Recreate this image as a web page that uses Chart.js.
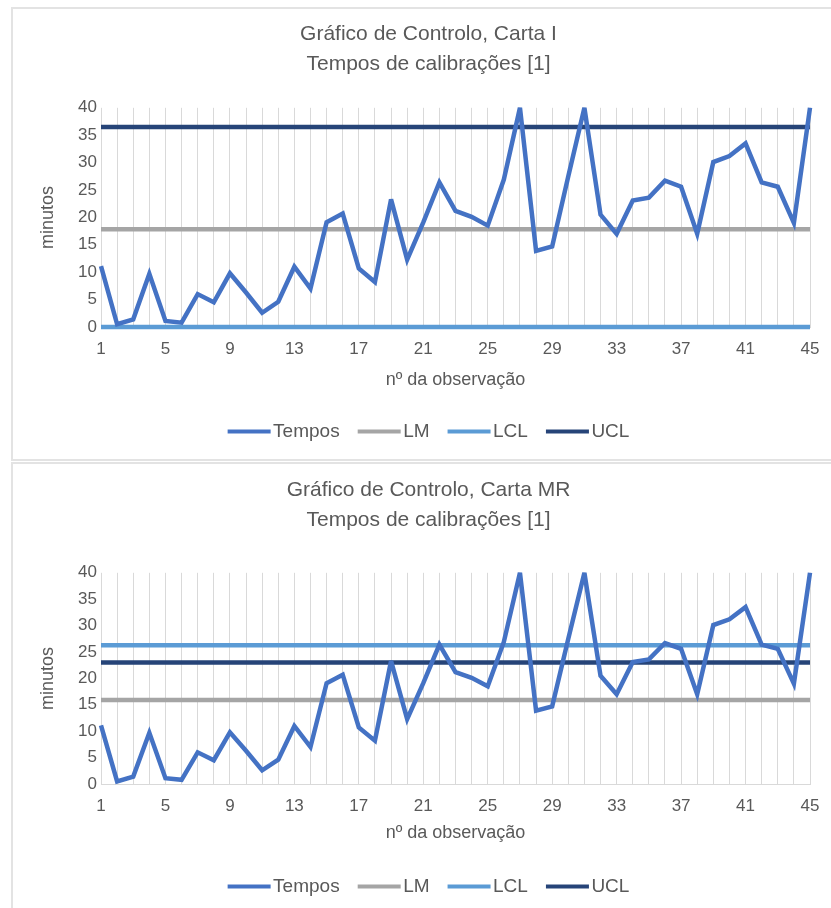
<!DOCTYPE html>
<html lang="pt">
<head>
<meta charset="utf-8">
<title>Gráfico de Controlo – Tempos de calibrações</title>
<script src="https://cdn.jsdelivr.net/npm/chart.js@4/dist/chart.umd.min.js"></script>
<style>
  html, body { margin: 0; padding: 0; background: #ffffff; overflow: hidden; }
  body { width: 831px; height: 908px; position: relative; }
  .card {
    position: absolute;
    left: 11px;
    width: 833px;
    border-top: 2px solid #e3e3e3;
    border-left: 2px solid #e3e3e3;
    border-bottom: 2px solid #e3e3e3;
    background: #ffffff;
  }
  #cardI  { top: 7px;   height: 450px; }
  #cardMR { top: 462px; height: 450px; }
  .card canvas { display: block; }
</style>
</head>
<body>
<div class="card" id="cardI"><canvas id="chartI" width="831" height="450"></canvas></div>
<div class="card" id="cardMR"><canvas id="chartMR" width="831" height="450"></canvas></div>

<script>
// Observation numbers (x axis categories)
const observacoes = [1, 2, 3, 4, 5, 6, 7, 8, 9, 10, 11, 12, 13, 14, 15, 16, 17, 18, 19, 20,
  21, 22, 23, 24, 25, 26, 27, 28, 29, 30, 31, 32, 33, 34, 35, 36, 37, 38, 39, 40,
  41, 42, 43, 44, 45];

// Calibration times, minutes
const tempos = [11.1, 0.5, 1.4, 9.7, 1.1, 0.8, 6.0, 4.5, 9.8, 6.3,
  2.6, 4.6, 11.0, 7.0, 19.1, 20.7, 10.7, 8.2, 23.3, 12.3,
  19.1, 26.4, 21.2, 20.1, 18.5, 26.9, 40.0, 13.9, 14.7, 27.5,
  40.0, 20.5, 17.0, 23.1, 23.6, 26.7, 25.6, 17.0, 30.1, 31.2,
  33.5, 26.4, 25.6, 19.0, 40.0];

// Control limits, individuals chart (Carta I)
const limitesI = { LM: 17.85, LCL: 0, UCL: 36.5 };
// Control limits, moving range chart (Carta MR)
const limitesMR = { LM: 15.9, LCL: 26.3, UCL: 23.0 };

// Only every 4th observation number is labelled on the x axis
const passoRotulos = 4;

const corTexto = '#595959';
const fonte = "'Liberation Sans', Arial, sans-serif";

const cores = {
  Tempos: '#4472C4',
  LM: '#A5A5A5',
  LCL: '#5B9BD5',
  UCL: '#264478'
};

function serieConstante(valor) {
  return observacoes.map(() => valor);
}

// Legend swatch: a short thick line, slightly longer than the legend box
function amostraLegenda(cor) {
  const c = document.createElement('canvas');
  c.width = 86;
  c.height = 6;
  const ctx = c.getContext('2d');
  ctx.fillStyle = cor;
  ctx.fillRect(25, 1, 43, 4);
  return c;
}

// Keep sharp peaks from producing very long miter spikes
const limiteMitra = {
  id: 'limiteMitra',
  beforeDatasetsDraw(chart) { chart.ctx.miterLimit = 4; }
};

function construirGrafico(canvasId, subtitulo, limites, disp) {
  const linha = (label, data) => ({
    label,
    data,
    borderColor: cores[label],
    backgroundColor: cores[label],
    borderWidth: 4.5,
    borderJoinStyle: 'miter',
    pointRadius: 0,
    pointHoverRadius: 0,
    tension: 0,
    fill: false,
    clip: false
  });

  return new Chart(document.getElementById(canvasId), {
    type: 'line',
    plugins: [limiteMitra],
    data: {
      labels: observacoes,
      datasets: [
        linha('Tempos', tempos),
        linha('LM', serieConstante(limites.LM)),
        linha('LCL', serieConstante(limites.LCL)),
        linha('UCL', serieConstante(limites.UCL))
      ]
    },
    options: {
      responsive: false,
      animation: false,
      events: [],
      layout: { padding: { left: 34, right: 34, top: 0, bottom: 8 } },
      plugins: {
        title: {
          display: true,
          text: ['Gráfico de Controlo, ' + subtitulo, 'Tempos de calibrações [1]'],
          color: corTexto,
          font: { family: fonte, size: 21, weight: 'normal', lineHeight: 1.4 },
          padding: disp.titulo
        },
        legend: {
          position: 'bottom',
          labels: {
            color: corTexto,
            font: { family: fonte, size: 19 },
            usePointStyle: true,
            pointStyleWidth: 36,
            boxHeight: 4,
            padding: 18,
            generateLabels: (chart) =>
              Chart.defaults.plugins.legend.labels.generateLabels(chart)
                .map(item => Object.assign(item, {
                  lineWidth: 0,
                  pointStyle: amostraLegenda(item.strokeStyle)
                }))
          }
        },
        tooltip: { enabled: false }
      },
      scales: {
        x: {
          type: 'category',
          offset: false,
          grid: { display: true, color: '#d9d9d9', lineWidth: 1, drawTicks: false },
          border: { display: true, color: '#d9d9d9', width: 1 },
          ticks: {
            autoSkip: false,
            maxRotation: 0,
            padding: 12,
            color: corTexto,
            font: { family: fonte, size: 17 },
            callback: function (valor, indice) {
              return indice % passoRotulos === 0 ? this.getLabelForValue(valor) : '';
            }
          },
          title: {
            display: true,
            text: 'nº da observação',
            color: corTexto,
            font: { family: fonte, size: 18 },
            padding: { top: 8, bottom: disp.tituloXBaixo }
          },
          afterFit: (escala) => { escala.height = disp.alturaX; }
        },
        y: {
          min: 0,
          max: 40,
          grid: { display: false, drawTicks: false },
          border: { display: false },
          ticks: {
            stepSize: 5,
            padding: 4,
            color: corTexto,
            font: { family: fonte, size: 17 }
          },
          title: {
            display: true,
            text: 'minutos',
            color: corTexto,
            font: { family: fonte, size: 18 },
            padding: { top: -10, bottom: 0 }
          },
          afterFit: (escala) => { escala.width = 54; }
        }
      }
    }
  });
}

construirGrafico('chartI', 'Carta I', limitesI,
  { titulo: { top: 11, bottom: 29 }, alturaX: 77, tituloXBaixo: 13 });
construirGrafico('chartMR', 'Carta MR', limitesMR,
  { titulo: { top: 12, bottom: 38 }, alturaX: 75, tituloXBaixo: 15 });
</script>
</body>
</html>
